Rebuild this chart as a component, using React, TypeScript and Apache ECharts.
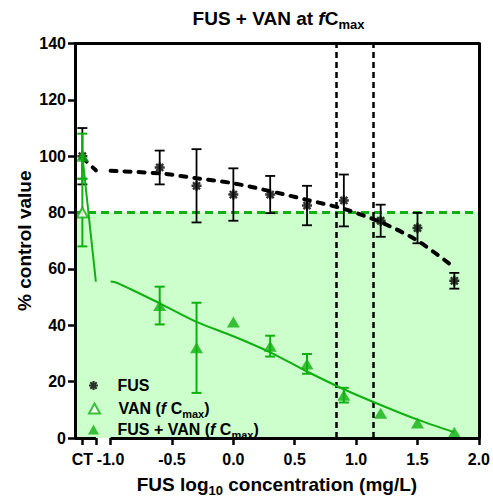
import React, { useEffect, useRef } from 'react';
import * as echarts from 'echarts';

const FONT = '"Liberation Sans", Arial, Helvetica, sans-serif';
const BLACK = '#000000';
const GREEN = '#10b010';
const FILL = '#ccffcc';

// axis layout (data units)
const XMIN = -1.29;
const XMAX = 2.0;
const CT = -1.23;
const BREAK_L = -1.12;
const BREAK_R = -1.0;
const xTickValues = [CT, BREAK_L, -1.0, -0.5, 0, 0.5, 1.0, 1.5, 2.0];
const xLabelValues = [CT, -1.0, -0.5, 0, 0.5, 1.0, 1.5, 2.0];
const Y_MIN = 0;
const Y_MAX = 140;
const Y_STEP = 20;

// reference markers
const threshold = 80;
const vLines = [0.84, 1.14];

// FUS alone
const fusX = [CT, -0.6, -0.3, 0, 0.3, 0.6, 0.9, 1.2, 1.5, 1.8];
const fusMean = [100, 96, 89.5, 86.4, 86.4, 82.5, 84.3, 77.1, 74.5, 55.8];
const fusErr = [10, 6, 13, 9.3, 6.6, 7, 9.2, 5.7, 5.4, 2.8];

// VAN alone at fCmax
const vanX = [CT];
const vanMean = [80];
const vanErr = [12];

// FUS + VAN
const comboX = [CT, -0.6, -0.3, 0, 0.3, 0.6, 0.9, 1.2, 1.5, 1.8];
const comboMean = [100, 47, 32, 41.2, 32.6, 26.3, 15.2, 8.8, 5.3, 2.0];
const comboErr = [8, 6.7, 16, 0, 3.7, 3.5, 2.6, 0, 0, 0];

// fitted curves; null = break at axis gap
const fusFitX = [CT, BREAK_L, -1.06, -1.0, -0.6, -0.3, 0, 0.3, 0.6, 0.9, 1.2, 1.5, 1.8];
const fusFitY = [99.5, 95, null, 94.8, 93.9, 92.2, 90.4, 87.6, 84.5, 81.3, 76.6, 70, 60.5];
const comboFitX = [CT, BREAK_L, -1.06, -1.0, -0.95, -0.6, -0.3, 0, 0.3, 0.6, 0.9, 1.2, 1.5, 1.8];
const comboFitY = [100, 55.5, null, 55.5, 55.1, 47.8, 41.2, 36.1, 30.4, 23.6, 17.3, 11.7, 6.5, 2.0];

const NAME_FUS = 'FUS';
const NAME_VAN = 'VAN (fCmax)';
const NAME_COMBO = 'FUS + VAN (fCmax)';

function asteriskPath(): string {
  const w = 0.24;
  const S = 10;
  const O = 12;
  let d = '';
  for (const deg of [0, 45, 90, 135]) {
    const t = (deg * Math.PI) / 180;
    const dx = Math.cos(t), dy = Math.sin(t);
    const nx = -dy, ny = dx;
    const pts = [
      [dx + nx * w, dy + ny * w],
      [-dx + nx * w, -dy + ny * w],
      [-dx - nx * w, -dy - ny * w],
      [dx - nx * w, dy - ny * w],
    ].map(([a, b]) => [(a * S + O).toFixed(3), (b * S + O).toFixed(3)]);
    d += `M${pts[0][0]} ${pts[0][1]} L${pts[1][0]} ${pts[1][1]} L${pts[2][0]} ${pts[2][1]} L${pts[3][0]} ${pts[3][1]} Z `;
  }
  return 'path://' + d.trim();
}
const ASTERISK = asteriskPath();

function errData(xs: number[], ms: number[], es: number[]) {
  return xs
    .map((x, i) => [x, ms[i] - es[i], ms[i] + es[i]])
    .filter((d) => d[2] - d[1] > 0);
}

function errRender(color: string, lw: number, cap: number) {
  return (params: any, api: any) => {
    const x = api.value(0);
    const lo = api.value(1);
    const hi = api.value(2);
    const top = api.coord([x, hi]);
    const bot = api.coord([x, lo]);
    const st = { stroke: color, lineWidth: lw, fill: 'none' };
    return {
      type: 'group',
      children: [
        { type: 'line', shape: { x1: top[0], y1: top[1], x2: bot[0], y2: bot[1] }, style: st },
        { type: 'line', shape: { x1: top[0] - cap, y1: top[1], x2: top[0] + cap, y2: top[1] }, style: st },
        { type: 'line', shape: { x1: bot[0] - cap, y1: bot[1], x2: bot[0] + cap, y2: bot[1] }, style: st },
      ],
    };
  };
}

function rich(size: number, spWidth = 0) {
  const sub = Math.round(size * 0.7);
  return {
    t: { fontFamily: FONT, fontWeight: 'bold', fontSize: size, color: BLACK, lineHeight: size + 6 },
    i: { fontFamily: FONT, fontWeight: 'bold', fontStyle: 'italic', fontSize: size, color: BLACK, lineHeight: size + 6 },
    s: { fontFamily: FONT, fontWeight: 'bold', fontSize: sub, color: BLACK, lineHeight: sub, verticalAlign: 'bottom' },
    sp: { width: spWidth, fontSize: size, lineHeight: size + 6 },
  };
}

const legendText: Record<string, string> = {
  [NAME_FUS]: '{sp|}{t|FUS}',
  [NAME_VAN]: '{sp|}{t|VAN (}{i|f}{t| C}{s|max}{t|)}',
  [NAME_COMBO]: '{sp|}{t|FUS + VAN (}{i|f}{t| C}{s|max}{t|)}',
};

function mkLegend(name: string, top: number, iconW: number, iconH: number, iconCx: number) {
  const left = iconCx - iconW / 2;
  const sp = 117.5 - (left + iconW + 5);
  return {
    data: [name],
    left,
    top,
    padding: 0,
    orient: 'horizontal',
    itemWidth: iconW,
    itemHeight: iconH,
    itemGap: 5,
    selectedMode: false,
    formatter: (n: string) => legendText[n],
    textStyle: { fontFamily: FONT, fontWeight: 'bold', fontSize: 16, color: BLACK, rich: rich(16, sp) },
  };
}

function buildOption(): any {
  const axisLineStyle = { color: BLACK, width: 3 };
  return {
    animation: false,
    backgroundColor: '#ffffff',
    textStyle: { fontFamily: FONT },
    grid: { left: 75, right: 11.5, top: 43.5, bottom: 58.5, containLabel: false },
    graphic: [
      {
        type: 'text',
        x: 278.5,
        y: 18,
        z: 20,
        style: {
          text: '{t|FUS + VAN at }{i|f}{t|C}{s|max}',
          align: 'center',
          verticalAlign: 'middle',
          rich: rich(19),
        },
      },
    ],
    legend: [
      mkLegend(NAME_FUS, 377.5, 9, 9, 93.5),
      mkLegend(NAME_VAN, 400.5, 11, 10, 93.5),
      mkLegend(NAME_COMBO, 421.5, 11, 10, 93.5),
    ],
    xAxis: [
      {
        type: 'value',
        min: XMIN,
        max: XMAX,
        z: 10,
        axisLine: { show: false },
        splitLine: { show: false },
        axisTick: {
          show: true,
          customValues: xTickValues,
          length: 7,
          inside: false,
          lineStyle: { color: BLACK, width: 2.5 },
        },
        axisLabel: {
          customValues: xLabelValues,
          margin: 13,
          fontFamily: FONT,
          fontWeight: 'bold',
          fontSize: 16,
          color: BLACK,
          formatter: (v: number) => (Math.abs(v - CT) < 0.01 ? 'CT' : v.toFixed(1)),
        },
        name: '{t|FUS log}{s|10}{t| concentration (mg/L)}',
        nameLocation: 'middle',
        nameGap: 34,
        nameTextStyle: { rich: rich(19) },
      },
      {
        type: 'value',
        position: 'top',
        min: XMIN,
        max: XMAX,
        z: 10,
        axisLine: { show: true, onZero: false, lineStyle: axisLineStyle },
        axisTick: { show: false },
        axisLabel: { show: false },
        splitLine: { show: false },
      },
    ],
    yAxis: [
      {
        type: 'value',
        min: Y_MIN,
        max: Y_MAX,
        interval: Y_STEP,
        z: 10,
        axisLine: { show: true, onZero: false, lineStyle: axisLineStyle },
        axisTick: { show: true, length: 7, inside: false, lineStyle: { color: BLACK, width: 2.5 } },
        axisLabel: { margin: 9, fontFamily: FONT, fontWeight: 'bold', fontSize: 16, color: BLACK },
        splitLine: { show: false },
        name: '% control value',
        nameLocation: 'middle',
        nameGap: 41,
        nameMoveOverlap: false,
        nameTextStyle: { fontFamily: FONT, fontWeight: 'bold', fontSize: 19, color: BLACK },
      },
      {
        type: 'value',
        position: 'right',
        min: Y_MIN,
        max: Y_MAX,
        interval: Y_STEP,
        z: 10,
        axisLine: { show: true, onZero: false, lineStyle: axisLineStyle },
        axisTick: { show: false },
        axisLabel: { show: false },
        splitLine: { show: false },
      },
    ],
    series: [
      {
        name: 'decor',
        type: 'line',
        data: [],
        z: 1,
        silent: true,
        markArea: {
          silent: true,
          z: 1,
          itemStyle: { color: FILL, opacity: 1 },
          data: [[{ coord: [XMIN, Y_MIN] }, { coord: [XMAX, threshold] }]],
        },
        markLine: {
          silent: true,
          z: 2,
          symbol: ['none', 'none'],
          label: { show: false },
          data: [
            { yAxis: threshold, lineStyle: { color: GREEN, width: 3, type: [8, 5] } },
            ...vLines.map((v) => ({ xAxis: v, lineStyle: { color: BLACK, width: 2.5, type: [6, 4] } })),
          ],
        },
      },
      {
        name: 'axisBottom',
        type: 'line',
        data: [],
        z: 10,
        silent: true,
        clip: false,
        markLine: {
          silent: true,
          z: 10,
          symbol: ['none', 'none'],
          label: { show: false },
          lineStyle: { color: BLACK, width: 3, type: 'solid' },
          data: [
            [{ coord: [XMIN, Y_MIN] }, { coord: [BREAK_L, Y_MIN] }],
            [{ coord: [BREAK_R, Y_MIN] }, { coord: [XMAX, Y_MIN] }],
          ],
        },
      },
      {
        name: 'fusFit',
        type: 'line',
        z: 3,
        data: fusFitX.map((x, i) => [x, fusFitY[i]]),
        showSymbol: false,
        symbol: 'none',
        smooth: 0.3,
        connectNulls: false,
        lineStyle: { color: BLACK, width: 4, type: [6, 8], cap: 'round' },
      },
      {
        name: 'fusErr',
        type: 'custom',
        z: 4,
        data: errData(fusX, fusMean, fusErr),
        encode: { x: 0, y: [1, 2] },
        renderItem: errRender(BLACK, 1.8, 5),
      },
      {
        name: NAME_FUS,
        type: 'scatter',
        z: 5,
        data: fusX.map((x, i) => [x, fusMean[i]]),
        symbol: ASTERISK,
        symbolSize: 10,
        itemStyle: { color: BLACK },
      },
      {
        name: 'comboFit',
        type: 'line',
        z: 6,
        data: comboFitX.map((x, i) => [x, comboFitY[i]]),
        showSymbol: false,
        symbol: 'none',
        smooth: 0.3,
        connectNulls: false,
        lineStyle: { color: GREEN, width: 2 },
      },
      {
        name: 'vanErr',
        type: 'custom',
        z: 6,
        data: errData(vanX, vanMean, vanErr),
        encode: { x: 0, y: [1, 2] },
        renderItem: errRender(GREEN, 2, 5),
      },
      {
        name: 'comboErr',
        type: 'custom',
        z: 6,
        data: errData(comboX, comboMean, comboErr),
        encode: { x: 0, y: [1, 2] },
        renderItem: errRender(GREEN, 2, 5),
      },
      {
        name: NAME_VAN,
        type: 'scatter',
        z: 7,
        data: vanX.map((x, i) => [x, vanMean[i]]),
        symbol: 'triangle',
        symbolSize: [11, 10],
        itemStyle: { color: '#ffffff', borderColor: GREEN, borderWidth: 2 },
      },
      {
        name: NAME_COMBO,
        type: 'scatter',
        z: 7,
        data: comboX.map((x, i) => [x, comboMean[i]]),
        symbol: 'triangle',
        symbolSize: [13, 11],
        itemStyle: { color: GREEN },
      },
    ],
  };
}

export default function App() {
  const ref = useRef<HTMLDivElement>(null);
  useEffect(() => {
    if (!ref.current) return;
    const chart = echarts.init(ref.current, null, { renderer: 'svg' });
    chart.setOption(buildOption());
    return () => chart.dispose();
  }, []);
  return (
    <div
      ref={ref}
      style={{ position: 'fixed', left: 0, top: 0, width: 493, height: 502, background: '#fff' }}
    />
  );
}
